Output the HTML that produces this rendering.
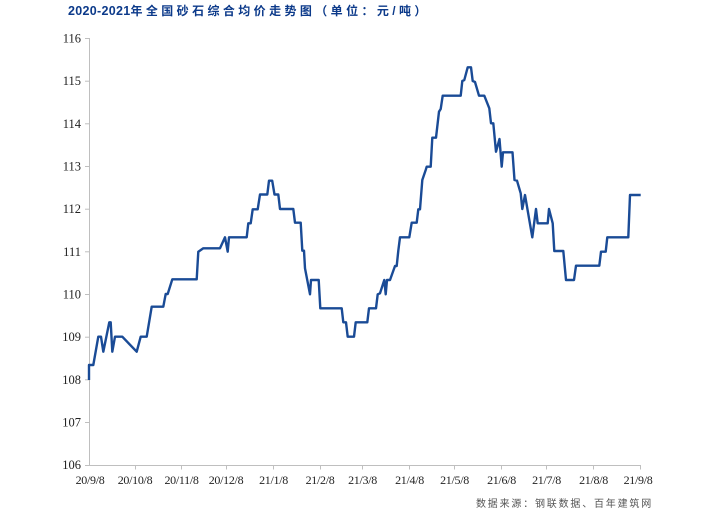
<!DOCTYPE html>
<html><head><meta charset="utf-8"><style>
html,body{margin:0;padding:0;background:#fff;}
body{width:715px;height:512px;position:relative;overflow:hidden;}
.t{position:absolute;left:68px;top:2px;white-space:nowrap;color:#0c3a8a;font-weight:bold;}
.d{font-family:"Liberation Sans",sans-serif;font-size:12.5px;letter-spacing:0.3px;}
.c{font-family:"Liberation Sans","Noto Sans CJK SC",sans-serif;font-size:12px;letter-spacing:3.4px;}
</style></head><body>
<div class="t"><span class="d">2020-2021</span><span class="c">年全国砂石综合均价走势图（单位：元/吨）</span></div>
<svg width="715" height="512" style="position:absolute;left:0;top:0" xmlns="http://www.w3.org/2000/svg">
<g stroke="#bfbfbf" stroke-width="1" fill="none">
<line x1="89.5" y1="38" x2="89.5" y2="465.5"/>
<line x1="89" y1="465.5" x2="640.5" y2="465.5"/>
<line x1="85" y1="38.5" x2="89" y2="38.5"/>
<line x1="85" y1="81.2" x2="89" y2="81.2"/>
<line x1="85" y1="123.8" x2="89" y2="123.8"/>
<line x1="85" y1="166.5" x2="89" y2="166.5"/>
<line x1="85" y1="209.2" x2="89" y2="209.2"/>
<line x1="85" y1="251.8" x2="89" y2="251.8"/>
<line x1="85" y1="294.5" x2="89" y2="294.5"/>
<line x1="85" y1="337.2" x2="89" y2="337.2"/>
<line x1="85" y1="379.8" x2="89" y2="379.8"/>
<line x1="85" y1="422.5" x2="89" y2="422.5"/>
<line x1="85" y1="465.5" x2="89" y2="465.5"/>
<line x1="135.5" y1="465" x2="135.5" y2="469.5"/>
<line x1="181.5" y1="465" x2="181.5" y2="469.5"/>
<line x1="226.5" y1="465" x2="226.5" y2="469.5"/>
<line x1="273.5" y1="465" x2="273.5" y2="469.5"/>
<line x1="320.5" y1="465" x2="320.5" y2="469.5"/>
<line x1="362.5" y1="465" x2="362.5" y2="469.5"/>
<line x1="409.5" y1="465" x2="409.5" y2="469.5"/>
<line x1="454.5" y1="465" x2="454.5" y2="469.5"/>
<line x1="501.5" y1="465" x2="501.5" y2="469.5"/>
<line x1="546.5" y1="465" x2="546.5" y2="469.5"/>
<line x1="593.5" y1="465" x2="593.5" y2="469.5"/>
<line x1="640.5" y1="465" x2="640.5" y2="469.5"/>
</g>
<g font-family="Liberation Serif, serif" font-size="12.5" fill="#222" text-anchor="end">
<text x="81" y="42.5">116</text>
<text x="81" y="85.2">115</text>
<text x="81" y="127.8">114</text>
<text x="81" y="170.5">113</text>
<text x="81" y="213.2">112</text>
<text x="81" y="255.8">111</text>
<text x="81" y="298.5">110</text>
<text x="81" y="341.2">109</text>
<text x="81" y="383.8">108</text>
<text x="81" y="426.5">107</text>
<text x="81" y="469.2">106</text>
</g>
<g font-family="Liberation Serif, serif" font-size="12" fill="#222" text-anchor="middle" letter-spacing="-0.3">
<text x="90" y="484">20/9/8</text>
<text x="135" y="484">20/10/8</text>
<text x="181.5" y="484">20/11/8</text>
<text x="226" y="484">20/12/8</text>
<text x="273.5" y="484">21/1/8</text>
<text x="320" y="484">21/2/8</text>
<text x="362.5" y="484">21/3/8</text>
<text x="409.5" y="484">21/4/8</text>
<text x="454.5" y="484">21/5/8</text>
<text x="501.5" y="484">21/6/8</text>
<text x="546.5" y="484">21/7/8</text>
<text x="593.5" y="484">21/8/8</text>
<text x="638" y="484">21/9/8</text>
</g>
<text x="476" y="507" font-family="Liberation Sans, Noto Sans CJK SC, sans-serif" font-size="10" fill="#555" letter-spacing="1.8">数据来源：钢联数据、百年建筑网</text>
<polyline fill="none" stroke="#1a4b96" stroke-width="2.4" stroke-linejoin="round" points="
89,380 89,365 93.3,365 98.3,336.7 101,336.7 103.3,351.7 109.3,322.3 110.7,322.3 112.3,351.7 115,336.7 122.3,336.7 136.7,351.7 140.7,336.7 146.7,336.7 151.7,306.7 163.3,306.7 165.7,294 167.7,294 172.3,279.3 196.7,279.3 198.3,251.7 203.3,248.3 220,248.3 225,237.3 227.7,251.7 229,237.3 246.7,237.3 248.3,223.3 250.7,223.3 252.7,209.3 257.7,209.3 260,194.5 267.3,194.5 269,180.7 272.2,180.7 274.5,194.5 278.3,194.5 280,209 293.3,209 295,222.7 300.7,222.7 302.3,250.7 304,250.7 305,268.3 310,294.3 311,280 318.7,280 320.3,308.3 341.7,308.3 343.3,322.3 346,322.3 347.7,336.7 354,336.7 355.7,322.3 367.3,322.3 369,308.3 376,308.3 377.7,294.3 380,293.3 384.3,280 385.7,294.3 387,280 390,280 395,266 396.7,266 398.3,250.7 400,237.3 409.3,237.3 411.7,222.7 416.7,222.7 418.3,209.3 420,209.3 422.3,180 425.7,170 426.7,166.7 430.7,166.7 432.3,137.7 436,137.7 439,111.7 440.7,109 442.7,95.7 460.7,95.7 462.3,81 464.3,80 467.7,67.3 471,67.3 472.7,81 475,82 479,95.7 484.3,95.7 489.3,108.3 491,123.3 493.3,123.3 496,151.7 499.5,139 501.7,166.7 503,152.3 512.5,152.3 514.5,180 517,180.7 520.7,193.3 522.3,209 525,195 532.3,237.3 536,209 537.7,223.3 547.7,223.3 549,209 552.7,223.3 554.3,251 563.3,251 566,280 574,280 576,265.7 599.3,265.7 601,251.7 605.7,251.7 607.3,237.3 628.3,237.3 630,195 640.7,195"/>
</svg>
</body></html>
